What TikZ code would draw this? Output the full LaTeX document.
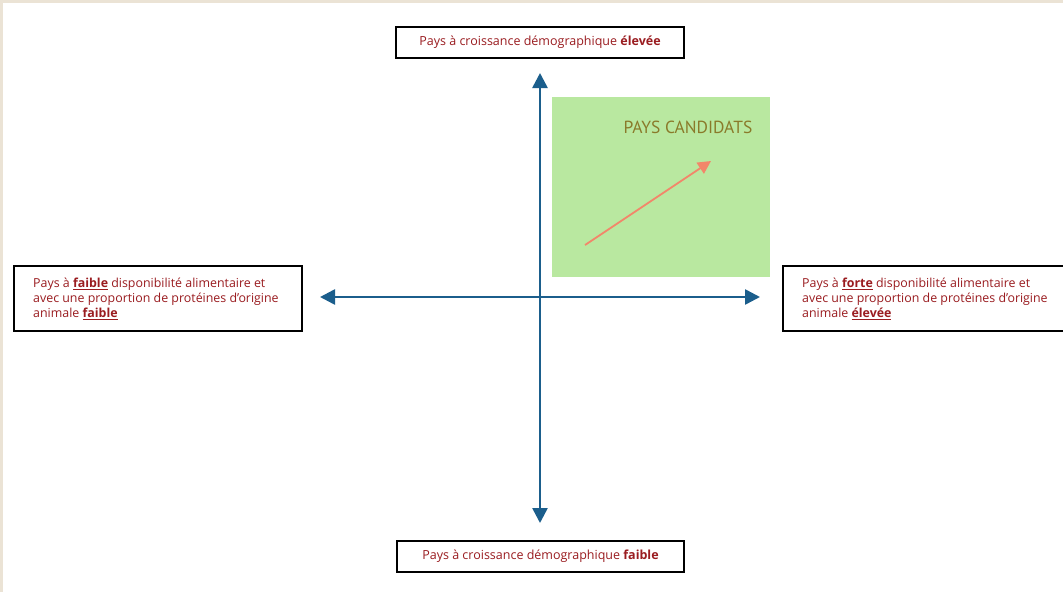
\documentclass[tikz,border=0pt]{standalone}
\usepackage{fontspec}
\setmainfont{Open Sans}
\newfontfamily\candfont{PT Sans}
\usetikzlibrary{arrows.meta}
\definecolor{frame}{HTML}{EBE3D5}
\definecolor{axisblue}{HTML}{1B5E8C}
\definecolor{txtred}{HTML}{9A1C20}
\definecolor{candgreen}{HTML}{B9E8A0}
\definecolor{candtxt}{HTML}{8A7A2A}
\definecolor{salmon}{HTML}{F2876A}
\tikzset{
  labelbox/.style={draw=black, line width=1.5pt, fill=white, inner sep=0pt, anchor=north west, text=txtred, font=\fontsize{12.5}{15}\selectfont},
  sidetext/.style={text=txtred, font=\fontsize{12.4}{15}\selectfont, align=left, anchor=north west, inner sep=0pt},
  axis/.style={draw=axisblue, line width=2.6pt, -{Triangle[length=15pt,width=15pt]}},
}
\begin{document}
\begin{tikzpicture}[x=1pt,y=-1pt]
\useasboundingbox (0,0) rectangle (1063,592);
\fill[frame] (0,0) rectangle (1063,592);
\fill[white] (3,3) rectangle (1063,592);
% green candidate area
\node[fill=candgreen, minimum width=218pt, minimum height=180pt, inner sep=0pt, anchor=north west] (cand) at (552,97) {};
\node[text=candtxt, font=\candfont\fontsize{17.5}{19}\selectfont, anchor=center] (candlbl) at (688,127) {PAYS CANDIDATS};
\coordinate (sa) at (585,245);
\coordinate (sb) at (711,161);
\draw[salmon, line width=1.8pt, -{Triangle[length=13pt,width=13pt]}] (sa) -- (sb);
% axes
\coordinate (c) at (540,297);
\coordinate (top) at (540,73);
\coordinate (bot) at (540,523);
\coordinate (lft) at (320,297);
\coordinate (rgt) at (760,297);
\draw[axis] (c) -- (top);
\draw[axis] (c) -- (bot);
\draw[axis] (c) -- (lft);
\draw[axis] (c) -- (rgt);
% boxes
\node[labelbox, minimum width=288pt, minimum height=31pt, anchor=center, align=center] (tbox) at (540,42.5) {Pays à croissance démographique \textbf{élevée}};
\node[labelbox, minimum width=287pt, minimum height=31pt, anchor=center, align=center] (bbox) at (540.5,556.5) {Pays à croissance démographique \textbf{faible}};
\begin{scope}
\clip (0,0) rectangle (1063,592);
\node[labelbox, minimum width=288pt, minimum height=65pt, anchor=north west] (lbox) at (13,265) {};
\node[labelbox, minimum width=300pt, minimum height=65pt, anchor=north west] (rbox) at (782,265) {};
\end{scope}
\node[sidetext] (ltxt) at (33,278) {Pays à \textbf{\underline{faible}} disponibilité alimentaire et\\avec une proportion de protéines d'origine\\animale \textbf{\underline{faible}}};
\node[sidetext] (rtxt) at (802,278) {Pays à \textbf{\underline{forte}} disponibilité alimentaire et\\avec une proportion de protéines d'origine\\animale \textbf{\underline{élevée}}};
\end{tikzpicture}
\end{document}
